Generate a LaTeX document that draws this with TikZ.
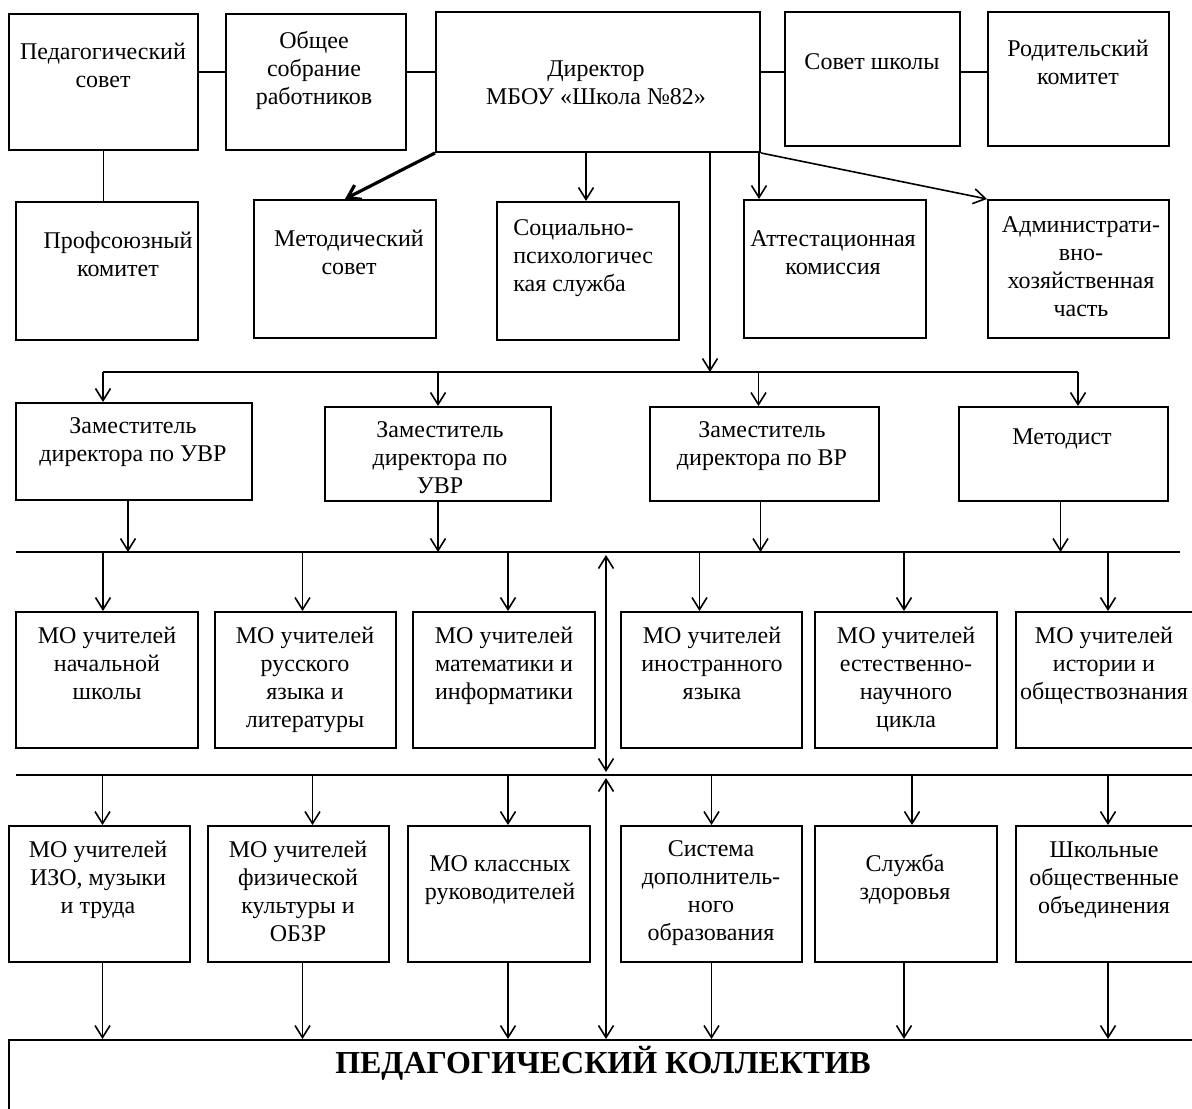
\documentclass[tikz,border=0pt]{standalone}
\usepackage{fontspec}
\setmainfont{Liberation Serif}
\usetikzlibrary{arrows.meta,fit,calc}
\tikzset{
  box/.style={draw, line width=1pt, inner sep=0pt},
  txt/.style={font=\fontsize{12}{14}\selectfont, align=center, inner sep=0pt, anchor=north},
  ln/.style={line width=0.8pt},
  arr/.style={line width=0.8pt, -{Straight Barb[length=6pt,width=7.5pt]}},
  dbl/.style={line width=0.8pt, {Straight Barb[length=6pt,width=7.5pt]}-{Straight Barb[length=6pt,width=7.5pt]}},
  thickarr/.style={line width=1.6pt, -{Straight Barb[length=6pt,width=8pt]}},
}
\newcommand\bx[5]{\node[box, fit={(#2,#3) (#4,#5)}] (#1) {};}
\newcommand\tx[3]{\node[txt] at (#1,{#2-14}) {\strut #3};}
\begin{document}
\begin{tikzpicture}[x=0.5pt,y=-0.5pt]
\useasboundingbox (0,0) rectangle (1192,1108);
\fill[white] (0,0) rectangle (1192,1108);
% row 1
\bx{ps}{9}{14}{198}{150}
\bx{os}{226}{14}{406}{150}
\bx{dir}{436}{12}{760}{152}
\bx{ss}{785}{12}{960}{146}
\bx{rk}{988}{12}{1169}{146}
% row 2
\bx{pk}{16}{202}{198}{340}
\bx{ms}{254}{200}{436}{338}
\bx{sp}{497}{202}{679}{340}
\bx{ak}{744}{200}{926}{338}
\bx{ah}{988}{200}{1169}{338}
% row 3
\bx{z1}{16}{403}{252}{500}
\bx{z2}{325}{407}{551}{501}
\bx{z3}{650}{407}{879}{501}
\bx{md}{959}{407}{1168}{501}
% row 4
\bx{a1}{16}{612}{198}{748}
\bx{a2}{215}{612}{396}{748}
\bx{a3}{413}{612}{595}{748}
\bx{a4}{621}{612}{802}{748}
\bx{a5}{815}{612}{997}{748}
\bx{a6}{1016}{612}{1210}{748}
% row 5
\bx{b1}{9}{826}{190}{962}
\bx{b2}{208}{826}{389}{962}
\bx{b3}{408}{826}{590}{962}
\bx{b4}{621}{826}{802}{962}
\bx{b5}{815}{826}{997}{962}
\bx{b6}{1016}{826}{1210}{962}
% bottom
\bx{pc}{9}{1040}{1210}{1130}

% texts
\tx{103}{53}{Педагогический\\совет}
\tx{314}{42}{Общее\\собрание\\работников}
\tx{596}{70}{Директор\\МБОУ «Школа №82»}
\tx{872}{63}{Совет школы}
\tx{1078}{50}{Родительский\\комитет}
\tx{118}{242}{Профсоюзный\\комитет}
\tx{349}{240}{Методический\\совет}
\node[txt, align=left, anchor=north west] at (513,{229-14}) {\strut Социально-\\психологичес\\кая служба};
\tx{833}{240}{Аттестационная\\комиссия}
\tx{1081}{226}{Администрати-\\вно-\\хозяйственная\\часть}
\tx{133}{427}{Заместитель\\директора по УВР}
\begin{scope}
\clip (326,408) rectangle (550,500);
\tx{440}{431}{Заместитель\\директора по\\УВР}
\end{scope}
\tx{762}{431}{Заместитель\\директора по ВР}
\tx{1062}{438}{Методист}
\tx{107}{637}{МО учителей\\начальной\\школы}
\tx{305}{637}{МО учителей\\русского\\языка и\\литературы}
\tx{504}{637}{МО учителей\\математики и\\информатики}
\tx{712}{637}{МО учителей\\иностранного\\языка}
\tx{906}{637}{МО учителей\\естественно-\\научного\\цикла}
\tx{1104}{637}{МО учителей\\истории и\\обществознания}
\tx{98}{851}{МО учителей\\ИЗО, музыки\\и труда}
\tx{298}{851}{МО учителей\\физической\\культуры и\\ОБЗР}
\tx{500}{865}{МО классных\\руководителей}
\tx{711}{850}{Система\\дополнитель-\\ного\\образования}
\tx{905}{865}{Служба\\здоровья}
\tx{1104}{851}{Школьные\\общественные\\объединения}
\node[font=\fontsize{16}{18}\selectfont\bfseries, inner sep=0pt, anchor=base] (pct) at (603,1073) {ПЕДАГОГИЧЕСКИЙ КОЛЛЕКТИВ};

% top connectors
\draw[ln] ([yshift=5pt]ps.east) -- ([yshift=5pt]os.west);
\draw[ln] ([yshift=5pt]os.east) -- ([yshift=5pt]os.east -| dir.west);
\draw[ln] ([yshift=5pt]dir.east) -- ([yshift=5pt]dir.east -| ss.west);
\draw[ln] ([yshift=3.5pt]ss.east) -- ([yshift=3.5pt]rk.west);
\draw[ln] (ps.south) -- (ps.south |- pk.north);
\draw[thickarr] (dir.south west) -- (ms.north);
\draw[arr] ([xshift=-1pt]sp.north |- dir.south) -- ([xshift=-1pt]sp.north);
\draw[arr] ([xshift=-1pt]dir.south east) -- ([xshift=-1pt]dir.south east |- ak.north);
\draw[arr] (dir.south east) -- (ah.north west);

% bus 1
\coordinate (t1) at (710,372);
\coordinate (t1L) at (103,372);
\coordinate (t1R) at (1078,372);
\draw[arr] (dir.south -| t1) -- (t1);
\draw[ln] (t1L) -- (t1R);
\draw[arr] (t1L) -- (t1L |- z1.north);
\draw[arr] (t1 -| z2.north) -- (z2.north);
\draw[arr] ([xshift=-3pt]t1 -| z3.north) -- ([xshift=-3pt]z3.north);
\draw[arr] (t1R) -- (t1R |- md.north);

% bus 2
\coordinate (t2L) at (16,552);
\coordinate (t2R) at (1180,552);
\draw[ln] (t2L) -- (t2R);
\draw[arr] ([xshift=-3pt]z1.south) -- ([xshift=-3pt]z1.south |- t2L);
\draw[arr] (z2.south) -- (z2.south |- t2L);
\draw[arr] ([xshift=-2pt]z3.south) -- ([xshift=-2pt]z3.south |- t2L);
\draw[arr] ([xshift=-1.5pt]md.south) -- ([xshift=-1.5pt]md.south |- t2L);

% bus 3
\coordinate (t3L) at (16,775);
\coordinate (t3R) at (1192,775);
\draw[ln] (t3L) -- (t3R);

% vertical double arrows
\coordinate (v) at (606,552);
\draw[dbl] ([yshift=-1.5pt]v) -- ([yshift=1.5pt]v |- t3L);
\draw[dbl] ([yshift=-1.5pt]v |- t3L) -- (v |- pc.north);

% bus 2 -> row 4
\draw[arr] ([xshift=-2pt]a1.north |- t2L) -- ([xshift=-2pt]a1.north);
\draw[arr] ([xshift=-1.5pt]a2.north |- t2L) -- ([xshift=-1.5pt]a2.north);
\draw[arr] ([xshift=2pt]a3.north |- t2L) -- ([xshift=2pt]a3.north);
\draw[arr] ([xshift=-6pt]a4.north |- t2L) -- ([xshift=-6pt]a4.north);
\draw[arr] ([xshift=-1pt]a5.north |- t2L) -- ([xshift=-1pt]a5.north);
\draw[arr] ([xshift=-2.5pt]a6.north |- t2L) -- ([xshift=-2.5pt]a6.north);

% bus 3 -> row 5
\draw[arr] ([xshift=1.5pt]b1.north |- t3L) -- ([xshift=1.5pt]b1.north);
\draw[arr] ([xshift=7pt]b2.north |- t3L) -- ([xshift=7pt]b2.north);
\draw[arr] ([xshift=4.5pt]b3.north |- t3L) -- ([xshift=4.5pt]b3.north);
\draw[arr] (b4.north |- t3L) -- (b4.north);
\draw[arr] ([xshift=3pt]b5.north |- t3L) -- ([xshift=3pt]b5.north);
\draw[arr] ([xshift=-2.5pt]b6.north |- t3L) -- ([xshift=-2.5pt]b6.north);

% row 5 -> bottom
\draw[arr] ([xshift=1.5pt]b1.south) -- ([xshift=1.5pt]b1.south |- pc.north);
\draw[arr] ([xshift=2pt]b2.south) -- ([xshift=2pt]b2.south |- pc.north);
\draw[arr] ([xshift=4.5pt]b3.south) -- ([xshift=4.5pt]b3.south |- pc.north);
\draw[arr] (b4.south) -- (b4.south |- pc.north);
\draw[arr] ([xshift=-1pt]b5.south) -- ([xshift=-1pt]b5.south |- pc.north);
\draw[arr] ([xshift=-2.5pt]b6.south) -- ([xshift=-2.5pt]b6.south |- pc.north);
\end{tikzpicture}
\end{document}
